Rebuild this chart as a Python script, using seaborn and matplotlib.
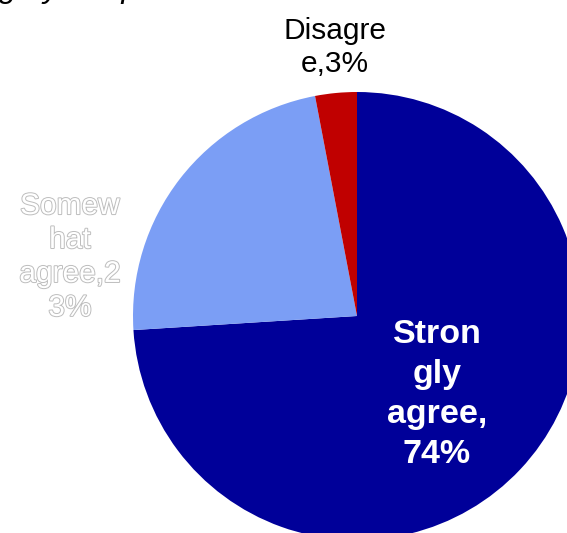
import matplotlib.pyplot as plt
import matplotlib.patheffects as pe
import seaborn as sns

# survey answers, clockwise from the top
answers = ["Strongly agree", "Somewhat agree", "Disagree"]
shares = [74, 23, 3]
colors = ["#000099", "#7B9EF5", "#C00000"]
labels = ["Stron\ngly\nagree,\n74%", "Somew\nhat\nagree,2\n3%", "Disagre\ne,3%"]

sns.set_theme(style="white")
plt.rcParams["font.family"] = ["Liberation Sans", "DejaVu Sans"]

W, H = 567, 533
fig = plt.figure(figsize=(W / 100, H / 100), dpi=100)
ax = fig.add_axes([0, 0, 1, 1])

ax.pie(shares, colors=colors, startangle=90, counterclock=False,
       center=(357, H - 316), radius=224,
       wedgeprops={"linewidth": 0})
ax.set_xlim(0, W)
ax.set_ylim(0, H)
ax.set_aspect("equal")
ax.axis("off")

# strongly agree: white bold inside the slice
ax.text(437, H - 394.5, labels[0], ha="center", va="center", color="white",
        fontsize=24.5, fontweight="bold", linespacing=1.37)
# somewhat agree: outlined text outside
ax.text(70, H - 257, labels[1], ha="center", va="center", color="white",
        fontsize=21.5, linespacing=1.27,
        path_effects=[pe.withStroke(linewidth=1.4, foreground="#bdbdbd")])
# disagree: black text above
ax.text(335, H - 47.5, labels[2], ha="center", va="center", color="black",
        fontsize=21.5, linespacing=1.27)

# title line above, only its descenders reach into the picture
ax.text(-1, H + 3, "g by the public", ha="left", va="baseline",
        fontsize=23, fontstyle="italic", color="black")

fig.savefig("out.png", dpi=100)
